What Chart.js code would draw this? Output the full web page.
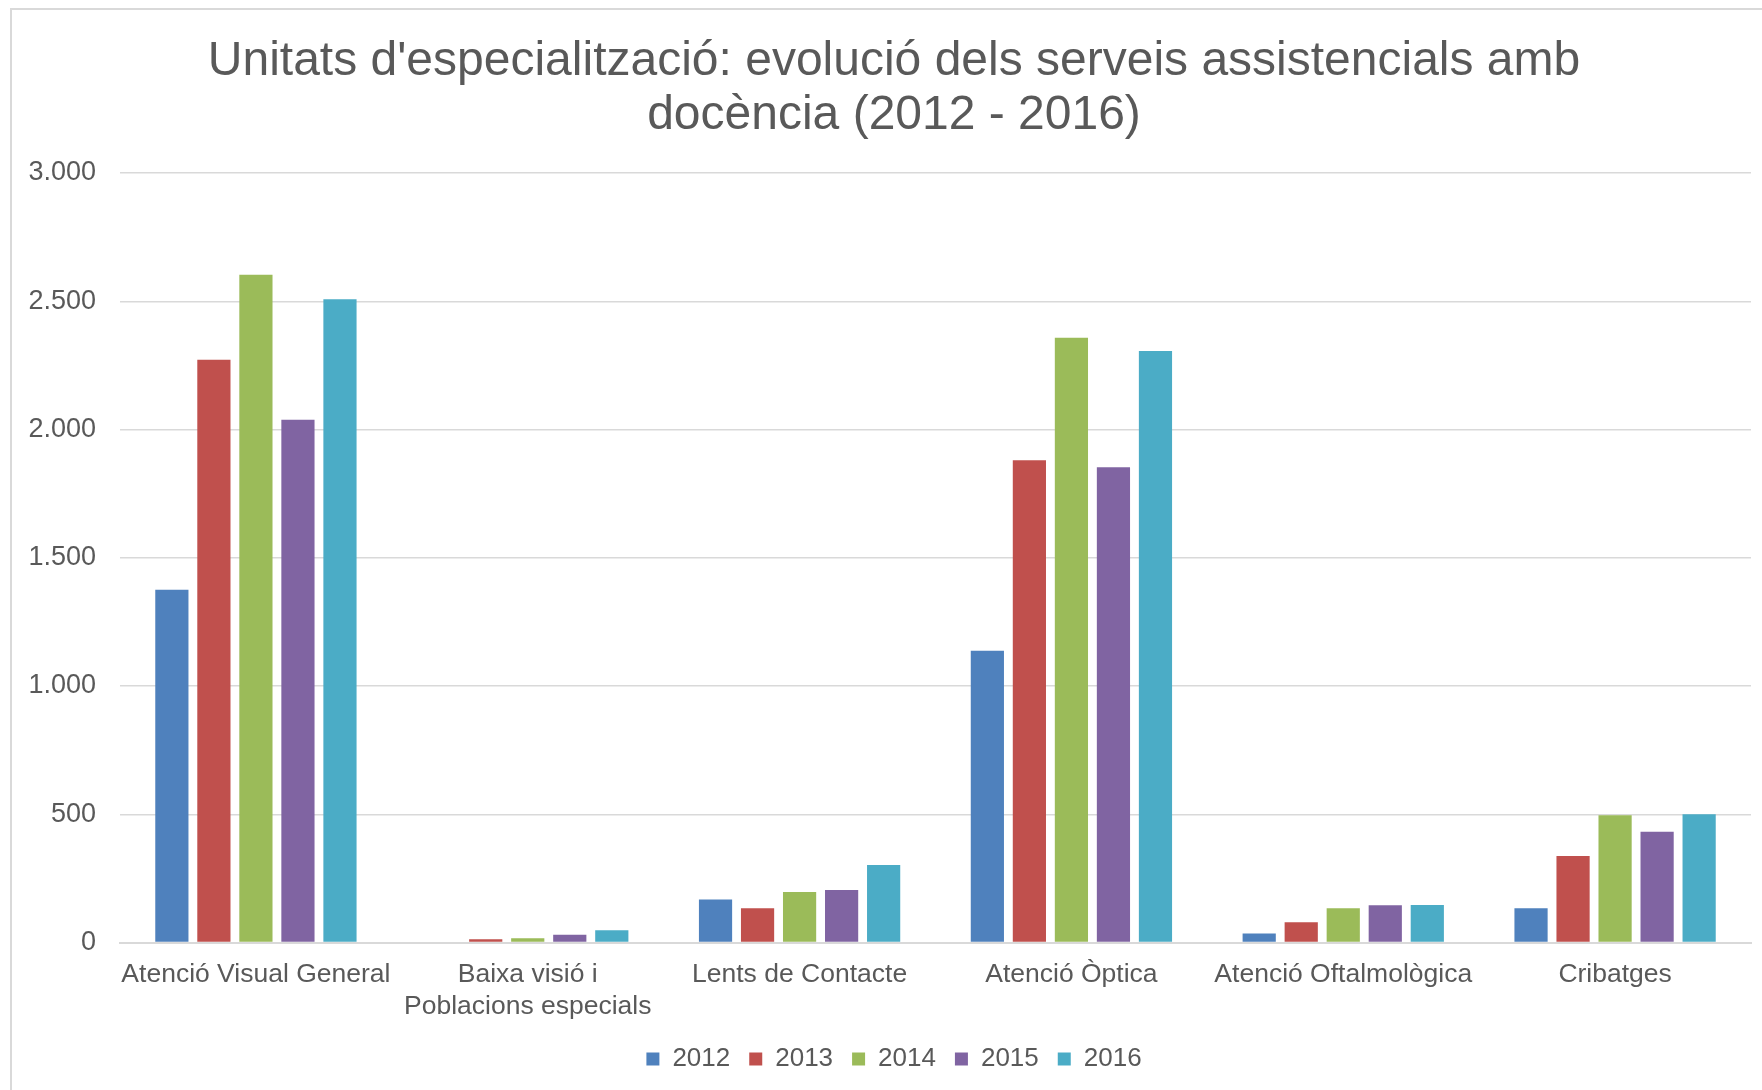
<!DOCTYPE html>
<html>
<head>
<meta charset="utf-8">
<script src="https://cdn.jsdelivr.net/npm/chart.js@4.4.1/dist/chart.umd.min.js"></script>
<style>
  body { margin: 0; background: #fff; }
  #wrap { position: relative; width: 1762px; height: 1090px; }
</style>
</head>
<body>
<div id="wrap"><canvas id="myChart"></canvas></div>
<script>
const categories = [
  "Atenció Visual General",
  ["Baixa visió i", "Poblacions especials"],
  "Lents de Contacte",
  "Atenció Òptica",
  "Atenció Oftalmològica",
  "Cribatges"
];
const years = ["2012", "2013", "2014", "2015", "2016"];
const values2012 = [1375, 0, 168, 1137, 35, 134];
const values2013 = [2272, 13, 134, 1880, 79, 337];
const values2014 = [2603, 17, 197, 2358, 134, 496];
const values2015 = [2038, 30, 205, 1853, 145, 432];
const values2016 = [2508, 48, 302, 2306, 146, 500];
const yTicks = [0, 500, 1000, 1500, 2000, 2500, 3000];
const colors = ["#4F81BD", "#C0504D", "#9BBB59", "#8064A2", "#4BACC6"];

const allValues = [values2012, values2013, values2014, values2015, values2016];
const fontFam = "'Liberation Sans', Arial, sans-serif";

const fmt = function (v) {
  return String(v).replace(/\B(?=(\d{3})+(?!\d))/g, ".");
};

// thin grey frame round the whole chart
const framePlugin = {
  id: "frame",
  beforeDraw(chart) {
    const c = chart.ctx;
    c.save();
    c.strokeStyle = "#d9d9d9";
    c.lineWidth = 2;
    c.strokeRect(11, 9, 1800, 1200);
    c.restore();
  }
};

const ctx = document.getElementById("myChart").getContext("2d");
const myChart = new Chart(ctx, {
  type: "bar",
  data: {
    labels: categories,
    datasets: years.map((y, i) => ({
      label: y,
      data: allValues[i],
      backgroundColor: colors[i],
      borderWidth: 0,
      categoryPercentage: 0.773,
      barPercentage: 0.79,
    })),
  },
  options: {
    responsive: true,
    maintainAspectRatio: false,
    animation: false,
    layout: {
      padding: { left: 26, right: 0, top: 35, bottom: 8 },
    },
    plugins: {
      title: {
        display: true,
        text: [
          "Unitats d'especialització: evolució dels serveis assistencials amb",
          "docència (2012 - 2016)"
        ],
        color: "#595959",
        font: { family: fontFam, size: 48, weight: "normal", lineHeight: 1.125 },
        padding: { top: 0, bottom: 30 },
      },
      legend: {
        position: "bottom",
        labels: {
          color: "#595959",
          font: { family: fontFam, size: 26 },
          boxWidth: 13,
          boxHeight: 13,
          padding: 19,
        },
      },
      tooltip: { enabled: false },
    },
    scales: {
      x: {
        grid: { display: false, drawTicks: false },
        border: { display: true, color: "#d9d9d9", width: 2 },
        ticks: {
          color: "#595959",
          font: { family: fontFam, size: 26.5, lineHeight: 1.2 },
          padding: 16.5,
          maxRotation: 0,
          autoSkip: false,
        },
        afterFit(axis) {
          axis.paddingLeft = 0;
          axis.paddingRight = 11;
          axis.height = 84.5;
        },
      },
      y: {
        min: 0,
        max: 3000,
        afterBuildTicks(axis) {
          axis.ticks = yTicks.map(v => ({ value: v }));
        },
        afterFit(axis) {
          axis.width = 94;
        },
        grid: { color: "#d9d9d9", lineWidth: 1.5, drawTicks: false },
        border: { display: false },
        ticks: {
          color: "#595959",
          font: { family: fontFam, size: 27 },
          padding: 24,
          callback: v => fmt(v),
        },
      },
    },
  },
  plugins: [framePlugin],
});
</script>
</body>
</html>
